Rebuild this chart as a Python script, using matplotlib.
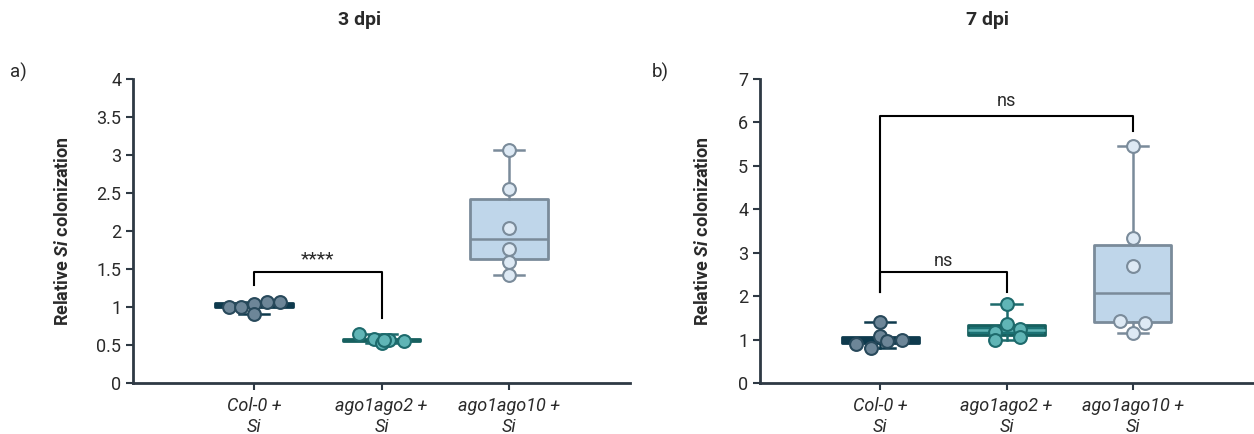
import numpy as np
import matplotlib.pyplot as plt

plt.rcParams['font.family'] = ['Roboto', 'DejaVu Sans']
plt.rcParams['mathtext.fontset'] = 'custom'
plt.rcParams['mathtext.rm'] = 'Roboto'
plt.rcParams['mathtext.it'] = 'Roboto:italic'
plt.rcParams['mathtext.bf'] = 'Roboto:bold'
plt.rcParams['mathtext.bfit'] = 'Roboto:bold:italic'

groups = ["Col-0 +\nSi", "ago1ago2 +\nSi", "ago1ago10 +\nSi"]

# relative Si colonization, 3 dpi
col0_3dpi = [1.00, 1.00, 1.04, 1.06, 1.06, 0.91]
ago12_3dpi = [0.64, 0.575, 0.53, 0.565, 0.55, 0.57]
ago110_3dpi = [3.07, 2.55, 2.04, 1.76, 1.59, 1.42]

# relative Si colonization, 7 dpi
col0_7dpi = [0.89, 0.80, 1.09, 1.41, 0.97, 0.99]
ago12_7dpi = [1.82, 1.37, 1.18, 0.99, 1.24, 1.07]
ago110_7dpi = [5.46, 3.35, 2.70, 1.43, 1.39, 1.16]

# horizontal spread of the dots inside each group
jitter_3dpi = [[-0.2, -0.1, 0.0, 0.1, 0.2, 0.0],
               [-0.18, -0.06, 0.0, 0.06, 0.18, 0.02],
               [0, 0, 0, 0, 0, 0]]
jitter_7dpi = [[-0.19, -0.07, 0.0, 0.0, 0.055, 0.17],
               [0.0, 0.0, -0.095, -0.095, 0.11, 0.11],
               [0.0, 0.0, 0.0, -0.1, 0.095, 0.0]]

box_fill = ['#0e3a4d', '#1c7274', '#bfd6ea']
box_edge = ['#0e3a4d', '#17605f', '#7a8b9a']
whisker_col = ['#0e3a4d', '#1d6a6c', '#7a8b9a']
median_3dpi = ['#0e3a4d', '#17605f', '#7a8b9a']
median_7dpi = ['#0e3a4d', '#5fb2b3', '#7a8b9a']
dot_fill = ['#6d8698', '#60b5b6', '#dde9f4']
dot_edge = ['#28495b', '#1d6a6c', '#7a8b9a']

axis_col = '#2e3944'
text_col = '#2a2a2a'


def draw_panel(ax, data, jitter, medians, ymax, yticks):
    pos = np.arange(len(data))
    bp = ax.boxplot(data, positions=pos, widths=0.61, whis=(0, 100),
                    capwidths=0.24, patch_artist=True, showfliers=False,
                    zorder=2)
    for i in range(len(data)):
        b = bp['boxes'][i]
        b.set_facecolor(box_fill[i])
        b.set_edgecolor(box_edge[i])
        b.set_linewidth(2)
        b.set_joinstyle('round')
        bp['medians'][i].set(color=medians[i], linewidth=1.8)
        for ln in bp['whiskers'][2 * i:2 * i + 2] + bp['caps'][2 * i:2 * i + 2]:
            ln.set(color=whisker_col[i], linewidth=1.8)
        xs = pos[i] + np.array(jitter[i])
        ax.scatter(xs, data[i], s=85, facecolor=dot_fill[i],
                   edgecolor=dot_edge[i], linewidth=1.5, zorder=4)
    ax.set_xlim(-0.95, 2.95)
    ax.set_ylim(0, ymax)
    ax.set_yticks(yticks)
    ax.set_yticklabels([f'{t:g}' for t in yticks])
    ax.set_xticks(pos)
    ax.set_xticklabels(groups, fontstyle='italic', fontsize=12.5,
                       color=text_col, linespacing=1.25)
    for side in ['top', 'right']:
        ax.spines[side].set_visible(False)
    for side in ['left', 'bottom']:
        ax.spines[side].set_color(axis_col)
        ax.spines[side].set_linewidth(2)
    ax.tick_params(axis='both', length=5, width=1.5, color=axis_col,
                   labelsize=13, labelcolor=text_col)
    ax.tick_params(axis='x', pad=5)
    ax.set_ylabel(r'Relative $\mathbfit{Si}$ colonization', fontsize=13,
                  fontweight='bold', color=text_col)


def bracket(ax, x1, x2, top, left_end, right_end, label, text_y, size):
    ax.plot([x1, x1, x2, x2], [left_end, top, top, right_end],
            color='black', linewidth=1.5, zorder=3)
    ax.text((x1 + x2) / 2, text_y, label, ha='center', va='center',
            fontsize=size, color=text_col)


fig = plt.figure(figsize=(12.54, 4.34), dpi=100)
ax1 = fig.add_axes([0.1061, 0.1175, 0.3963, 0.7005])
ax2 = fig.add_axes([0.6061, 0.1175, 0.3931, 0.7005])

draw_panel(ax1, [col0_3dpi, ago12_3dpi, ago110_3dpi], jitter_3dpi,
           median_3dpi, 4, np.arange(0, 4.01, 0.5))
draw_panel(ax2, [col0_7dpi, ago12_7dpi, ago110_7dpi], jitter_7dpi,
           median_7dpi, 7, np.arange(0, 8, 1))
ax1.yaxis.set_label_coords(-61 / 497, 0.5)
ax2.yaxis.set_label_coords(-48 / 493, 0.5)

bracket(ax1, 0, 1, 1.46, 1.29, 0.86, '****', 1.63, 14)
bracket(ax2, 0, 1, 2.56, 2.1, 2.1, 'ns', 2.8, 13)
bracket(ax2, 0, 2, 6.15, 2.1, 5.8, 'ns', 6.5, 13)

fig.text(360 / 1254, 1 - 20 / 434, '3 dpi', ha='center', va='center',
         fontsize=14, fontweight='bold', color=text_col)
fig.text(987 / 1254, 1 - 20 / 434, '7 dpi', ha='center', va='center',
         fontsize=14, fontweight='bold', color=text_col)
fig.text(10 / 1254, 1 - 72 / 434, 'a)', ha='left', va='center',
         fontsize=13.5, color=text_col)
fig.text(652 / 1254, 1 - 72 / 434, 'b)', ha='left', va='center',
         fontsize=13.5, color=text_col)

fig.savefig('out.png', dpi=100)
